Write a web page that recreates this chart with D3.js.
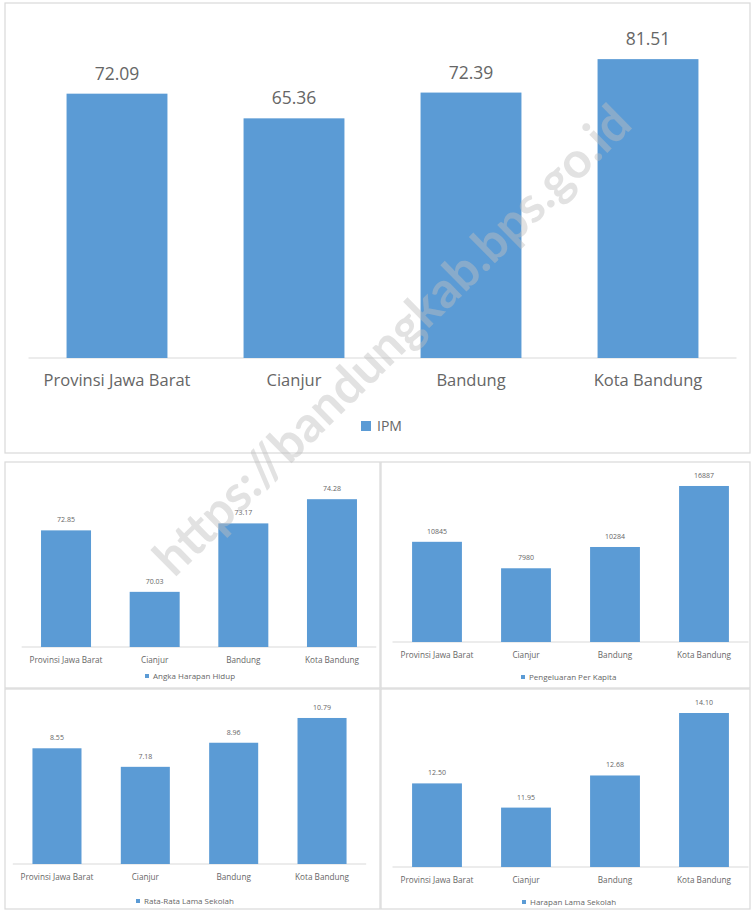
<!DOCTYPE html>
<html><head><meta charset="utf-8">
<script src="https://cdn.jsdelivr.net/npm/d3@7"></script>
<style>
html,body{margin:0;padding:0;background:#fff;}
svg{display:block;font-family:"Open Sans",Lato,sans-serif;}
</style></head>
<body>
<svg id="c" width="753" height="911"></svg>
<script>
// ---- data ----
const categories = ["Provinsi Jawa Barat", "Cianjur", "Bandung", "Kota Bandung"];
const ipmValues = [72.09, 65.36, 72.39, 81.51];
const ipmLabels = ["72.09", "65.36", "72.39", "81.51"];
const ahhValues = [72.85, 70.03, 73.17, 74.28];
const ahhLabels = ["72.85", "70.03", "73.17", "74.28"];
const ppkValues = [10845, 7980, 10284, 16887];
const ppkLabels = ["10845", "7980", "10284", "16887"];
const rlsValues = [8.55, 7.18, 8.96, 10.79];
const rlsLabels = ["8.55", "7.18", "8.96", "10.79"];
const hlsValues = [12.50, 11.95, 12.68, 14.10];
const hlsLabels = ["12.50", "11.95", "12.68", "14.10"];
const seriesNames = ["IPM", "Angka Harapan Hidup", "Pengeluaran Per Kapita", "Rata-Rata Lama Sekolah", "Harapan Lama Sekolah"];
const watermark = "https://bandungkab.bps.go.id";

const BAR = "#5B9BD5", TXT = "#666666", GRID = "#d9d9d9";
const svg = d3.select("#c");

// panel borders
const panels = [
  {x:5, y:3, w:745, h:450},
  {x:5, y:462, w:375, h:226},
  {x:381, y:462, w:369, h:226},
  {x:5, y:689, w:375, h:220},
  {x:381, y:689, w:369, h:220}
];
svg.selectAll("rect.panel").data(panels).join("rect")
  .attr("class","panel")
  .attr("x",d=>d.x).attr("y",d=>d.y).attr("width",d=>d.w).attr("height",d=>d.h)
  .attr("fill","none").attr("stroke",GRID).attr("stroke-width",1.2);

function chart(cfg){
  const x = d3.scaleBand().domain(categories).range(cfg.xr).paddingInner(cfg.pad).paddingOuter(cfg.pad/2);
  const y = d3.scaleLinear().domain(cfg.yd).range(cfg.yr);
  const g = svg.append("g");
  g.append("line").attr("x1",cfg.xr[0]).attr("x2",cfg.xr[1])
    .attr("y1",y(cfg.yd[0])).attr("y2",y(cfg.yd[0]))
    .attr("stroke",GRID).attr("stroke-width",1);
  g.selectAll("rect.bar").data(cfg.values).join("rect")
    .attr("class","bar")
    .attr("x",(d,i)=>x(categories[i])).attr("width",x.bandwidth())
    .attr("y",d=>y(d)).attr("height",d=>y(cfg.yd[0])-y(d))
    .attr("fill",BAR);
  g.selectAll("text.val").data(cfg.values).join("text")
    .attr("class","val")
    .attr("x",(d,i)=>x(categories[i])+x.bandwidth()/2)
    .attr("y",d=>y(d)-cfg.valGap)
    .attr("text-anchor","middle").attr("font-size",cfg.valSize).attr("fill",TXT)
    .text((d,i)=>cfg.labels[i]);
  // category axis
  const ax = d3.axisBottom(x).tickSize(0).tickPadding(cfg.catPad);
  const axg = g.append("g").attr("transform",`translate(0,${y(cfg.yd[0])})`).call(ax);
  axg.select(".domain").remove();
  axg.selectAll("text").attr("font-size",cfg.catSize).attr("fill",TXT).attr("font-family","'Open Sans', sans-serif");
  // legend
  const lg = g.append("g").attr("transform",`translate(${cfg.leg[0]},${cfg.leg[1]})`);
  lg.append("rect").attr("x",0).attr("y",-cfg.legSq/2).attr("width",cfg.legSq).attr("height",cfg.legSq).attr("fill",BAR);
  lg.append("text").attr("x",cfg.legSq+cfg.legGap).attr("y",0).attr("dy","0.35em")
    .attr("font-size",cfg.legSize).attr("fill",TXT).text(cfg.name);
}

chart({values:ipmValues, labels:ipmLabels, name:seriesNames[0],
  xr:[28.5,736.5], pad:0.43, yd:[0,90], yr:[358,28],
  valGap:14, valSize:17.5, catPad:16, catSize:16.5,
  leg:[361,426], legSq:10, legGap:6, legSize:14});

chart({values:ahhValues, labels:ahhLabels, name:seriesNames[1],
  xr:[21.7,376.3], pad:0.436, yd:[67.5,75], yr:[647,483.5],
  valGap:8, valSize:7, catPad:10, catSize:8.2,
  leg:[145,676], legSq:4, legGap:4, legSize:8});

chart({values:ppkValues, labels:ppkLabels, name:seriesNames[2],
  xr:[392.5,748.5], pad:0.44, yd:[0,18000], yr:[642,475.7],
  valGap:8, valSize:7, catPad:10, catSize:8.2,
  leg:[521,677], legSq:4, legGap:4, legSize:8});

chart({values:rlsValues, labels:rlsLabels, name:seriesNames[3],
  xr:[12.8,366.2], pad:0.445, yd:[0,12], yr:[864,701.6],
  valGap:8, valSize:7, catPad:10, catSize:8.2,
  leg:[136,901], legSq:4, legGap:4, legSize:8});

chart({values:hlsValues, labels:hlsLabels, name:seriesNames[4],
  xr:[392.5,748.5], pad:0.44, yd:[10.6,14.5], yr:[867,695.4],
  valGap:8, valSize:7, catPad:10, catSize:8.2,
  leg:[522,902], legSq:4, legGap:4, legSize:8});

// watermark
svg.append("text")
  .attr("transform","translate(392,340) rotate(-44.5)")
  .attr("text-anchor","middle").attr("dy","0.35em")
  .attr("font-size",50).attr("font-weight","bold")
  .attr("font-family","Lato, 'DejaVu Sans', sans-serif")
  .attr("fill","#bfbfbf").attr("fill-opacity",0.45)
  .text(watermark);
</script>
</body></html>
